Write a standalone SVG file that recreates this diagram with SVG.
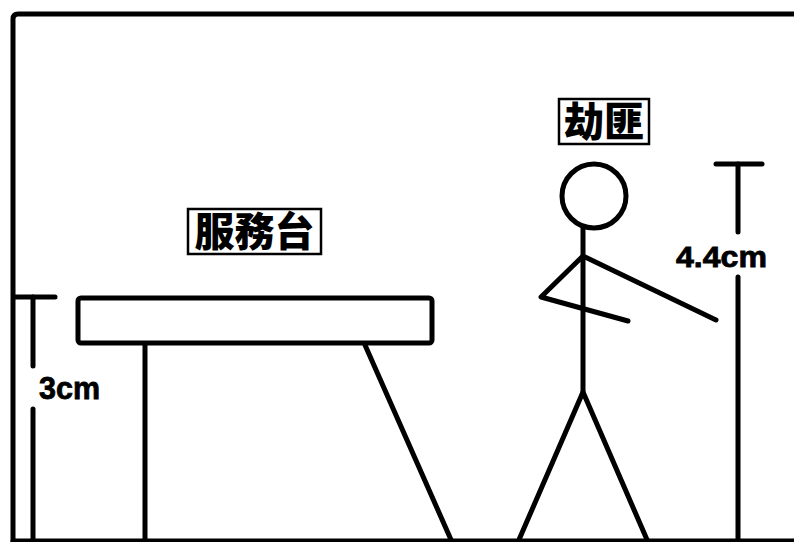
<svg xmlns="http://www.w3.org/2000/svg" width="794" height="542" viewBox="0 0 794 542">
  <style>
    .ln { fill: none; stroke: #000; stroke-width: 5; stroke-linecap: round; stroke-linejoin: round; }
    .box { fill: #fff; stroke: #000; stroke-width: 2.5; }
    .lbl { font-family: "Noto Sans CJK TC", "Noto Sans CJK SC", sans-serif; font-weight: 900; font-size: 40px; fill: #000; }
    .dim { font-family: "Liberation Sans", Arial, sans-serif; font-weight: bold; fill: #000; stroke: #000; stroke-width: 0.8; }
  </style>
  <rect width="794" height="542" fill="#fff"/>

  <!-- room outline: ceiling, wall, floor -->
  <g id="room">
    <path class="ln" d="M794 14 H18 Q13 14 13 19 V542"/>
    <line class="ln" x1="13" y1="541" x2="794" y2="541"/>
  </g>

  <!-- service counter -->
  <g id="counter">
    <rect class="ln" x="78" y="298" width="354" height="45" rx="3"/>
    <line class="ln" x1="145" y1="345" x2="145" y2="542"/>
    <line class="ln" x1="365" y1="345" x2="452" y2="542"/>
  </g>
  <g id="counter-label">
    <rect class="box" x="188" y="209" width="133" height="45"/>
    <text class="lbl" x="254.5" y="246" text-anchor="middle">服務台</text>
  </g>

  <!-- counter height dimension -->
  <g id="dim-3cm">
    <line class="ln" x1="14" y1="297" x2="55" y2="297"/>
    <line class="ln" x1="33" y1="297" x2="33" y2="366"/>
    <line class="ln" x1="33" y1="409" x2="33" y2="542"/>
    <text class="dim" x="39" y="399" font-size="32" textLength="61" lengthAdjust="spacingAndGlyphs">3cm</text>
  </g>

  <!-- robber figure -->
  <g id="robber">
    <circle class="ln" cx="594" cy="196" r="32"/>
    <line class="ln" x1="583" y1="228" x2="583" y2="392"/>
    <path class="ln" d="M628 321 L541 297 L583 256 L716 320"/>
    <path class="ln" d="M518 542 L583 392 L648 542"/>
  </g>
  <g id="robber-label">
    <rect class="box" x="559" y="99" width="90" height="45"/>
    <text class="lbl" x="604" y="136" text-anchor="middle">劫匪</text>
  </g>

  <!-- figure height dimension -->
  <g id="dim-4-4cm">
    <line class="ln" x1="716" y1="164" x2="762" y2="164"/>
    <line class="ln" x1="738" y1="164" x2="738" y2="232"/>
    <line class="ln" x1="738" y1="277" x2="738" y2="542"/>
    <text class="dim" x="676" y="267" font-size="29" textLength="91" lengthAdjust="spacingAndGlyphs">4.4cm</text>
  </g>
</svg>
